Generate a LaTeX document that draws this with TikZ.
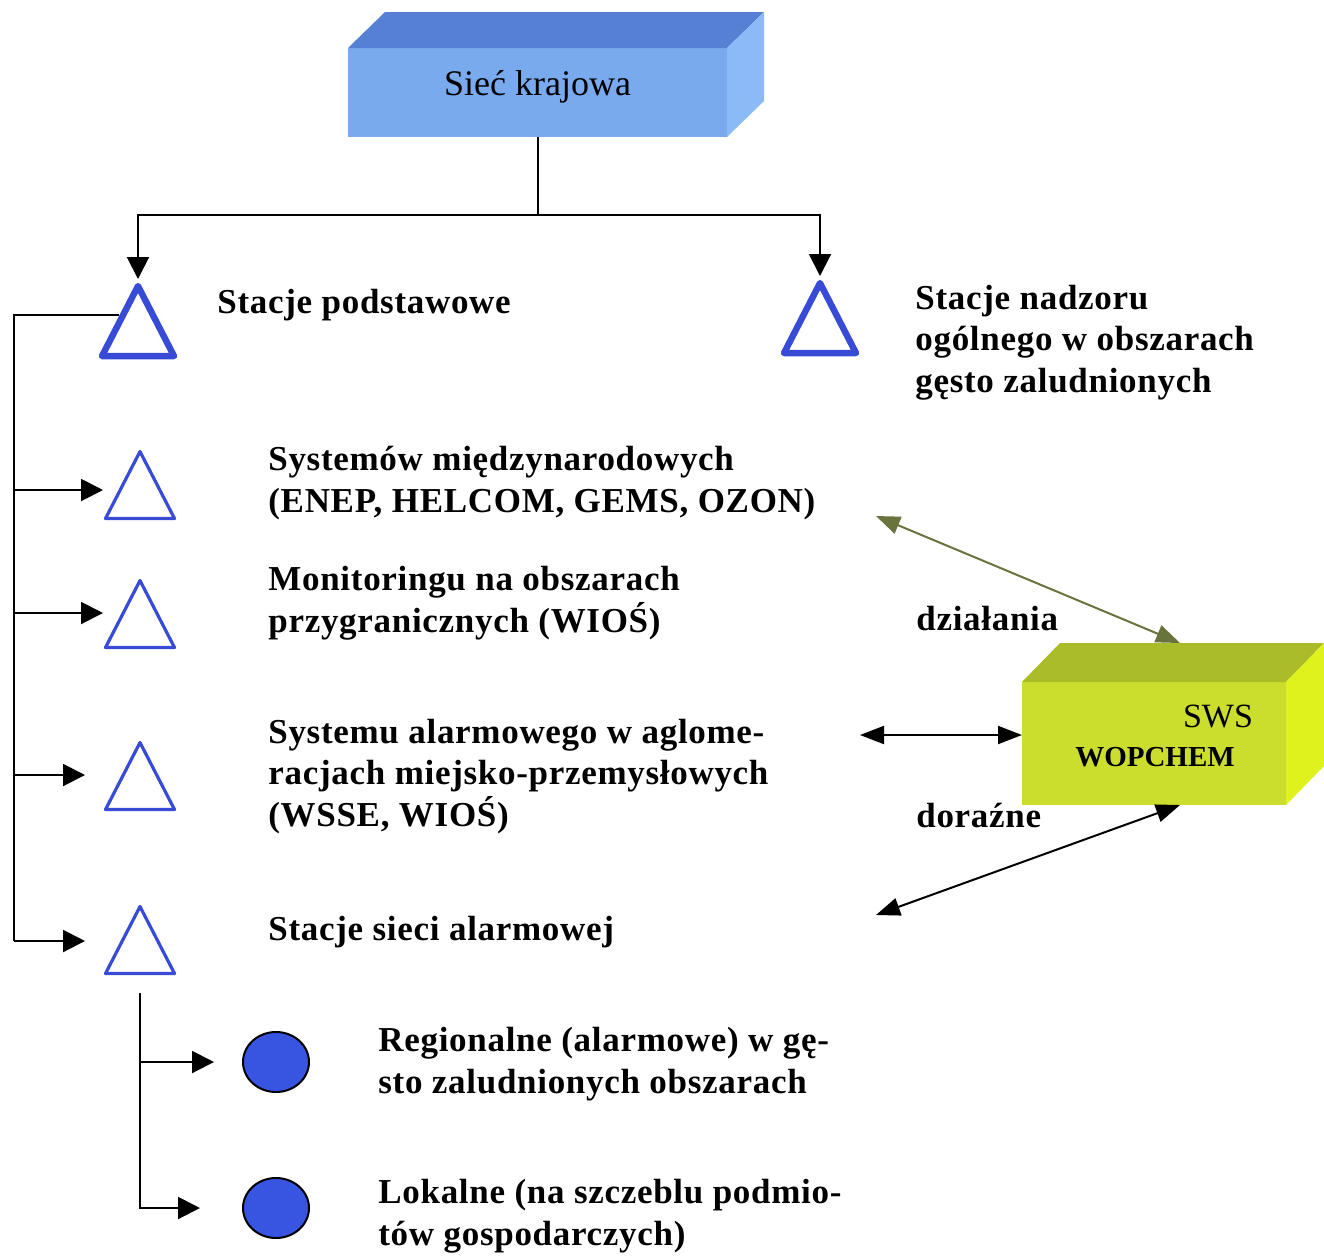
\documentclass[tikz,border=0pt]{standalone}
\usepackage{fontspec}
\setmainfont{Liberation Serif}
\usetikzlibrary{arrows.meta,calc,shapes.geometric}
\definecolor{siecfront}{RGB}{122,170,238}
\definecolor{siectop}{RGB}{86,128,212}
\definecolor{siecside}{RGB}{140,186,246}
\definecolor{swsfront}{RGB}{204,222,45}
\definecolor{swstop}{RGB}{170,188,42}
\definecolor{swsside}{RGB}{224,242,30}
\definecolor{triblue}{RGB}{55,75,215}
\definecolor{dotblue}{RGB}{55,85,225}
\definecolor{olivearrow}{RGB}{105,115,60}
\tikzset{>={Triangle[length=11pt,width=11pt]}}
\tikzset{
  box/.style={inner sep=0pt, outer sep=0pt},
  tri/.style={isosceles triangle, isosceles triangle apex angle=54,
    isosceles triangle stretches, shape border rotate=90, draw=triblue,
    line width=1.6pt, line join=round, minimum width=34.5pt, minimum height=33.5pt,
    inner sep=0pt, anchor=apex},
  trithick/.style={tri, line width=3.2pt, minimum width=36pt, minimum height=35pt},
  dot/.style={ellipse, draw, line width=1pt, fill=dotblue, minimum width=33pt,
    minimum height=30pt, inner sep=0pt},
  lbl/.style={anchor=base west, align=left, inner sep=0pt,
    font=\fontsize{17.5}{20.75}\selectfont\bfseries\addfontfeature{LetterSpace=2}},
  conn/.style={line width=1pt},
  dbl/.style={{Triangle[length=12pt,width=9pt]}-{Triangle[length=12pt,width=9pt]}, line width=1pt}
}

\begin{document}
\begin{tikzpicture}[x=0.5pt,y=-0.5pt]
  \useasboundingbox (0,0) rectangle (1324,1255);

  % Boxes
  \node[box, fill=siecfront, minimum width=189.5pt, minimum height=44.5pt,
    font=\fontsize{18}{21}\selectfont, text height=12pt, text depth=9.5pt] (siec) at (537.5,92.5) {Sieć krajowa};
  \fill[siectop] (siec.north west) -- ++(37,-36) -- ($(siec.north east)+(37,-36)$) -- (siec.north east) -- cycle;
  \fill[siecside] (siec.north east) -- ++(37,-36) -- ($(siec.south east)+(37,-36)$) -- (siec.south east) -- cycle;

  \node[box, fill=swsfront, minimum width=132pt, minimum height=61.5pt] (sws) at (1154,743.5) {};
  \fill[swstop] (sws.north west) -- ++(38,-39) -- ($(sws.north east)+(38,-39)$) -- (sws.north east) -- cycle;
  \fill[swsside] (sws.north east) -- ++(38,-39) -- ($(sws.south east)+(38,-39)$) -- (sws.south east) -- cycle;
  \node[anchor=base, inner sep=0pt, font=\fontsize{17}{20}\selectfont] (swsname) at ($(sws.center)+(64,-16.5)$) {SWS};
  \node[anchor=base, inner sep=0pt, font=\fontsize{14.5}{17}\selectfont\bfseries] (wopchem) at ($(sws.center)+(1,22.5)$) {WOPCHEM};

  % Stations
  \node[trithick] (t0) at (138,279) {};
  \node[trithick] (tn) at (820,276) {};
  \node[tri] (t1) at (140,448) {};
  \node[tri] (t2) at (140,577) {};
  \node[tri] (t3) at (140,739) {};
  \node[tri] (t4) at (140,903) {};
  \node[dot] (c1) at (276,1062) {};
  \node[dot] (c2) at (276,1208) {};

  % Labels (base = last line)
  \node[lbl] (podst) at (217,313) {Stacje podstawowe};
  \node[lbl] (nadzor) at (915,392) {Stacje nadzoru\\ogólnego w obszarach\\gęsto zaludnionych};
  \node[lbl] (miedzy) at (268,512) {Systemów międzynarodowych\\(ENEP, HELCOM, GEMS, OZON)};
  \node[lbl] (granica) at (268,632) {Monitoringu na obszarach\\przygranicznych (WIOŚ)};
  \node[lbl] (aglo) at (268,826) {Systemu alarmowego w aglome-\\racjach miejsko-przemysłowych\\(WSSE, WIOŚ)};
  \node[lbl] (alarm) at (268,940) {Stacje sieci alarmowej};
  \node[lbl] (region) at (378,1093) {Regionalne (alarmowe) w gę-\\sto zaludnionych obszarach};
  \node[lbl] (lokal) at (378,1245) {Lokalne (na szczeblu podmio-\\tów gospodarczych)};
  \node[lbl] (dzial) at (916,630) {działania};
  \node[lbl] (doraz) at (916,827) {doraźne};

  % Lines
  \draw[conn] (siec.south) -- ++(0,78) coordinate (split);
  \draw[conn,->] (split) -| (t0.apex);
  \draw[conn,->] (split) -| (tn.apex);

  \coordinate (trunk) at (14,0);
  \coordinate (e1) at (103,490);
  \coordinate (e2) at (103,613);
  \coordinate (e3) at (85,775);
  \coordinate (e4) at (85,941);
  \draw[conn] ($(t0.apex)!0.45!(t0.left corner)$) -| (trunk |- e4);
  \foreach \e in {e1,e2,e3,e4}
    \draw[conn,->] (trunk |- \e) -- (\e);

  \coordinate (sub) at ($(t4.lower side)+(0,18)$);
  \draw[conn,->] (sub) |- ([xshift=-21pt]c2.west);
  \draw[conn,->] (sub |- c1) -- ([xshift=-14pt]c1.west);

  \coordinate (d1) at (876,516);
  \coordinate (d2) at (860,735);
  \coordinate (d3) at (876,915);
  \draw[dbl, olivearrow] (d1) -- ($(sws.north)+(26,-39)$);
  \draw[dbl] (d2) -- (d2 -| sws.west);
  \draw[dbl] (d3) -- ($(sws.south)+(26,0)$);
\end{tikzpicture}
\end{document}
